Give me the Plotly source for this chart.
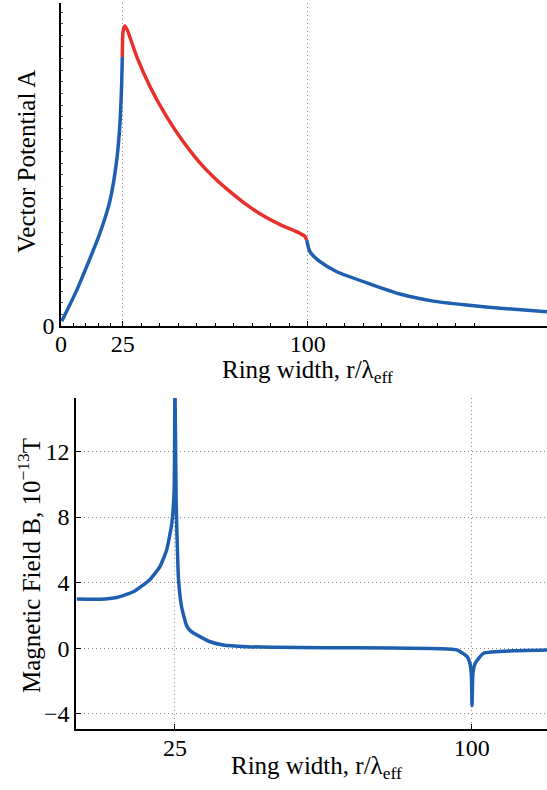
import plotly.graph_objects as go

# ---- Top panel: vector potential A (arbitrary units) ----
a_blue1_x = [0.3, 6.4, 15.8, 19.9, 22.6, 23.9, 24.6, 24.85]
a_blue1_y = [0.015, 0.111, 0.288, 0.39, 0.514, 0.628, 0.752, 0.833]
a_red_x = [24.85, 25.2, 25.9, 26.9, 30.7, 36.1, 42.8, 48.2, 55.0, 61.7, 68.5, 75.3, 82.0, 88.8, 95.5, 98.9, 99.6]
a_red_y = [0.833, 0.915, 0.929, 0.916, 0.834, 0.741, 0.648, 0.585, 0.517, 0.462, 0.416, 0.375, 0.341, 0.314, 0.292, 0.277, 0.266]
a_blue2_x = [99.6, 100.9, 105.0, 111.8, 125.3, 137.4, 150.9, 164.4, 178.0, 197.0]
a_blue2_y = [0.266, 0.230, 0.199, 0.168, 0.130, 0.099, 0.077, 0.065, 0.055, 0.044]

top_xticks = [0, 25, 100]
top_xticklabels = ["0", "25", "100"]
top_minor_x = [5, 10, 15, 20, 32.5, 40, 47.5, 55, 62.5, 70, 77.5, 85, 92.5,
               107.5, 115, 122.5, 130, 137.5, 145, 152.5, 160, 167.5]

# ---- Bottom panel: magnetic field B (1e-13 T) ----
b_x = [0.2, 6.1, 10.3, 14.5, 18.7, 21.2, 22.9, 24.2, 24.8, 25.0, 25.3, 25.6, 25.9, 26.7, 28.0, 29.0,
       31.3, 33.9, 37.2, 43.0, 50.0, 62.5, 79.4, 92.0, 96.2, 98.8, 99.5, 99.9, 100.05, 100.3, 100.9,
       103.0, 110.5, 119.0]
b_y = [3.0, 2.99, 3.1, 3.45, 4.2, 4.98, 6.0, 7.6, 9.65, 16.0, 9.0, 6.2, 4.2, 2.5, 1.35, 1.05,
       0.71, 0.4, 0.2, 0.1, 0.07, 0.04, 0.02, -0.02, -0.1, -0.5, -0.9, -1.6, -3.5, -1.5, -0.9,
       -0.3, -0.15, -0.1]

bot_xticks = [25, 100]
bot_yticks = [-4, 0, 4, 8, 12]

BLUE = "#1f5fb0"
RED = "#e8302a"
FONT = "Liberation Serif"

W, H = 547, 790


def fx(px):
    return px / W


def fy(py):
    return 1 - py / H


fig = go.Figure()
lw = 3.5
fig.add_trace(go.Scatter(x=a_blue1_x, y=a_blue1_y, mode="lines",
                         line=dict(color=BLUE, width=lw, shape="spline", smoothing=0.6),
                         xaxis="x", yaxis="y", showlegend=False))
fig.add_trace(go.Scatter(x=a_red_x, y=a_red_y, mode="lines",
                         line=dict(color=RED, width=lw, shape="spline", smoothing=0.6),
                         xaxis="x", yaxis="y", showlegend=False))
fig.add_trace(go.Scatter(x=a_blue2_x, y=a_blue2_y, mode="lines",
                         line=dict(color=BLUE, width=lw, shape="spline", smoothing=0.6),
                         xaxis="x", yaxis="y", showlegend=False))
fig.add_trace(go.Scatter(x=b_x, y=b_y, mode="lines",
                         line=dict(color=BLUE, width=lw, shape="spline", smoothing=0.5),
                         xaxis="x2", yaxis="y2", showlegend=False))

GRID = dict(showgrid=True, gridcolor="#8a8a8a", griddash="1px,3px", gridwidth=1)
axcommon = dict(showline=True, linecolor="black", linewidth=1.5, ticks="inside", ticklen=5,
                tickcolor="black", zeroline=False, mirror=False, automargin=False,
                tickfont=dict(family=FONT, size=24, color="black"))

fig.update_layout(
    width=W, height=H, margin=dict(l=0, r=0, t=0, b=0),
    paper_bgcolor="white", plot_bgcolor="white",
    font=dict(family=FONT, color="black"),
    xaxis=dict(domain=[fx(61), 1], range=[0, 197], anchor="y",
               tickmode="array", tickvals=top_xticks, ticktext=top_xticklabels,
               ticklabelstandoff=-5,
               minor=dict(tickmode="array", tickvals=top_minor_x, ticks="inside", ticklen=3,
                          tickcolor="black", showgrid=False),
               **GRID, **axcommon),
    yaxis=dict(domain=[fy(326), fy(3)], range=[0, 1], anchor="x",
               tickmode="array", tickvals=[0], ticktext=["0"], showgrid=False,
               minor=dict(dtick=0.036, tick0=0, ticks="inside", ticklen=2,
                          tickcolor="#555555", showgrid=False),
               **axcommon),
    xaxis2=dict(domain=[fx(76), 1], range=[0, 119], anchor="y2",
                tickmode="array", tickvals=bot_xticks, ticklabelstandoff=-4,
                **GRID, **axcommon),
    yaxis2=dict(domain=[fy(729), fy(398)], range=[-4.92, 15.26], anchor="x2",
                tickmode="array", tickvals=bot_yticks,
                **GRID, **axcommon),
)

tfont = dict(family=FONT, size=25, color="black")
fig.add_annotation(text="Ring width, r/λ<sub>eff</sub>", x=fx(307), y=fy(371),
                   xref="paper", yref="paper", showarrow=False, font=tfont,
                   xanchor="center", yanchor="middle")
fig.add_annotation(text="Ring width, r/λ<sub>eff</sub>", x=fx(316), y=fy(767),
                   xref="paper", yref="paper", showarrow=False, font=tfont,
                   xanchor="center", yanchor="middle")
fig.add_annotation(text="Vector Potential A", x=fx(26), y=fy(162),
                   xref="paper", yref="paper", showarrow=False, font=tfont, textangle=-90,
                   xanchor="center", yanchor="middle")
fig.add_annotation(text="Magnetic Field B, 10<sup>−13</sup>T", x=fx(29), y=fy(566),
                   xref="paper", yref="paper", showarrow=False, font=tfont, textangle=-90,
                   xanchor="center", yanchor="middle")

fig.write_html(
    "out.html",
    config={"displayModeBar": False},
    post_script="document.body.style.margin='0';document.body.style.overflow='hidden';",
)
